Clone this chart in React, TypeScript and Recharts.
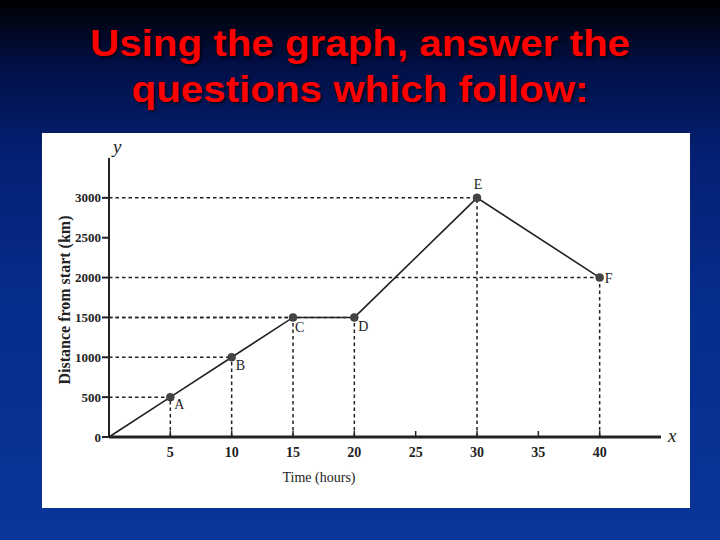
import React from 'react';
import { LineChart, Line, XAxis, YAxis, ReferenceLine, LabelList } from 'recharts';

const times = [0, 5, 10, 15, 20, 30, 40];
const distances = [0, 500, 1000, 1500, 1500, 3000, 2000];
const pointNames = ['', 'A', 'B', 'C', 'D', 'E', 'F'];
const xTicks = [5, 10, 15, 20, 25, 30, 35, 40];
const yTicks = [0, 500, 1000, 1500, 2000, 2500, 3000];
const titleLines = ['Using the graph, answer the', 'questions which follow:'];
const xTitle = 'Time (hours)';
const yTitle = 'Distance from start (km)';

const data = times.map((t, i) => ({ t, d: distances[i], name: pointNames[i] }));

const SERIF = '"Liberation Serif", "DejaVu Serif", serif';
const INK = '#222';

// label placement relative to each point (styling only)
const labelStyle: Record<string, { dx: number; dy: number; anchor: 'start' | 'middle' }> = {
  A: { dx: 4, dy: 12, anchor: 'start' },
  B: { dx: 4, dy: 13, anchor: 'start' },
  C: { dx: 2, dy: 15, anchor: 'start' },
  D: { dx: 4, dy: 14, anchor: 'start' },
  E: { dx: 1, dy: -9, anchor: 'middle' },
  F: { dx: 5, dy: 5, anchor: 'start' },
};

const XTick = (props: any) => {
  const { x, y, payload } = props;
  return (
    <g>
      <line x1={x} x2={x} y1={y} y2={y - 6} stroke={INK} strokeWidth={1.5} />
      <text x={x} y={y + 20} textAnchor="middle" fontFamily={SERIF} fontSize={14} fontWeight="bold" fill={INK}>
        {payload.value}
      </text>
    </g>
  );
};

const renderDot = (props: any) => {
  const { cx, cy, index, payload } = props;
  if (!payload.name) return <g key={`dot-${index}`} />;
  return <circle key={`dot-${index}`} cx={cx} cy={cy} r={4} fill="#444" stroke="#333" strokeWidth={0.5} />;
};

const renderLabel = (props: any) => {
  const { x, y, value, index } = props;
  if (!value) return null;
  const s = labelStyle[value];
  return (
    <text key={`lbl-${index}`} x={x + s.dx} y={y + s.dy} textAnchor={s.anchor} fontFamily={SERIF} fontSize={14} fill={INK}>
      {value}
    </text>
  );
};

export default function App() {
  const named = data.filter((p) => p.name);
  return (
    <div
      style={{
        position: 'fixed',
        left: 0,
        top: 0,
        width: 720,
        height: 540,
        overflow: 'hidden',
        background: 'linear-gradient(to bottom, #000000 0%, #020f45 12%, #041f72 28%, #062c8c 55%, #0a3599 100%)',
      }}
    >
      <div
        style={{
          position: 'absolute',
          left: 0,
          top: 21,
          width: 720,
          textAlign: 'center',
          color: '#ff0000',
          fontFamily: '"Liberation Sans", Arial, sans-serif',
          fontWeight: 'bold',
          fontSize: 36,
          lineHeight: '46px',
          textShadow: '2px 2px 2px rgba(0,0,0,0.6)',
          transform: 'scaleX(1.12)',
          transformOrigin: '360px 0',
        }}
      >
        {titleLines.map((l) => (
          <div key={l}>{l}</div>
        ))}
      </div>
      <div style={{ position: 'absolute', left: 42, top: 133, width: 648, height: 375, background: '#ffffff' }} />
      <div style={{ position: 'absolute', left: 0, top: 0 }}>
        <LineChart width={720} height={540} data={data} margin={{ top: 158, right: 59, left: 49, bottom: 73 }}>
          <XAxis
            dataKey="t"
            type="number"
            domain={[0, 45]}
            ticks={xTicks}
            height={30}
            tickSize={0}
            tickMargin={0}
            tickLine={false}
            axisLine={{ stroke: INK, strokeWidth: 3 }}
            tick={<XTick />}
            interval={0}
          />
          <YAxis
            type="number"
            domain={[0, 3500]}
            ticks={yTicks}
            width={60}
            tickSize={7}
            tickMargin={1}
            interval={0}
            axisLine={{ stroke: INK, strokeWidth: 2 }}
            tickLine={{ stroke: INK, strokeWidth: 2 }}
            tick={{ fontFamily: SERIF, fontSize: 13, fontWeight: 'bold', fill: INK }}
          />
          {named.map((p) => (
            <ReferenceLine
              key={`h-${p.name}`}
              segment={[{ x: 0, y: p.d }, { x: p.t, y: p.d }]}
              stroke={INK}
              strokeWidth={1.5}
              strokeDasharray="3.5 3"
              ifOverflow="visible"
            />
          ))}
          {named.map((p) => (
            <ReferenceLine
              key={`v-${p.name}`}
              segment={[{ x: p.t, y: 0 }, { x: p.t, y: p.d }]}
              stroke={INK}
              strokeWidth={1.5}
              strokeDasharray="3.5 3"
              ifOverflow="visible"
            />
          ))}
          <Line
            type="linear"
            dataKey="d"
            stroke={INK}
            strokeWidth={1.6}
            dot={renderDot}
            activeDot={false}
            isAnimationActive={false}
          >
            <LabelList dataKey="name" content={renderLabel} />
          </Line>
        </LineChart>
      </div>
      <svg width={720} height={540} style={{ position: 'absolute', left: 0, top: 0, pointerEvents: 'none' }}>
        <text x={113} y={153} fontFamily={SERIF} fontStyle="italic" fontSize={19} fill={INK}>y</text>
        <text x={668} y={442} fontFamily={SERIF} fontStyle="italic" fontSize={19} fill={INK}>x</text>
        <text x={319} y={482} textAnchor="middle" fontFamily={SERIF} fontSize={14} fill={INK}>{xTitle}</text>
        <text
          x={70}
          y={300}
          textAnchor="middle"
          transform="rotate(-90 70 300)"
          fontFamily={SERIF}
          fontSize={16}
          fontWeight="bold"
          fill={INK}
        >
          {yTitle}
        </text>
      </svg>
    </div>
  );
}
